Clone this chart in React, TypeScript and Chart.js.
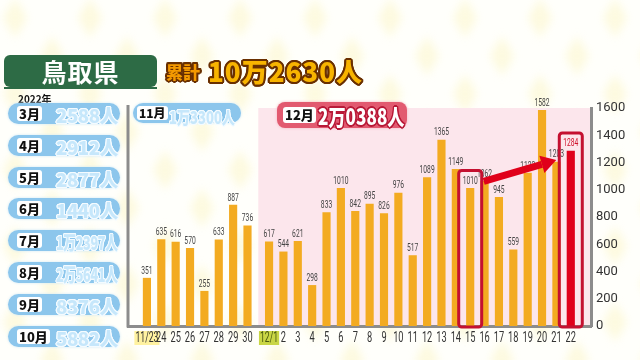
import React, { useEffect, useRef } from 'react';
import { Chart, registerables } from 'chart.js';

Chart.register(...registerables);

// ---------- data ----------
const dateLabels = ['11/23', '24', '25', '26', '27', '28', '29', '30', '12/1', '2', '3', '4', '5', '6', '7', '8', '9', '10', '11', '12', '13', '14', '15', '16', '17', '18', '19', '20', '21', '22'];
const dailyCases = [351, 635, 616, 570, 255, 633, 887, 736, 617, 544, 621, 298, 833, 1010, 842, 895, 826, 976, 517, 1089, 1365, 1149, 1010, 1062, 945, 559, 1122, 1582, 1203, 1284];
const yTickValues = [0, 200, 400, 600, 800, 1000, 1200, 1400, 1600];
const decStartIndex = 8;
const compareFrom = '15';
const compareTo = '22';

const monthNames = ['3月', '4月', '5月', '6月', '7月', '8月', '9月', '10月'];
const monthTotals = ['2588人', '2912人', '2877人', '1440人', '1万2397人', '2万5641人', '8376人', '5882人'];
const novName = '11月';
const novTotal = '1万3300人';
const decName = '12月';
const decTotal = '2万0388人';
const prefecture = '鳥取県';
const cumulativeLabel = '累計';
const cumulativeTotal = '10万2630人';
const yearLabel = '2022年';

// ---------- helpers ----------
const xPos = (i: number) => (i < decStartIndex ? i : i + 0.5);
const SANS = 'Roboto, "Noto Sans", sans-serif';
const JP = '"Noto Sans CJK JP", "Noto Sans", sans-serif';
const fromIdx = dateLabels.lastIndexOf(compareFrom);
const toIdx = dateLabels.lastIndexOf(compareTo);

const estW = (s: string, fs: number) =>
  [...s].reduce((w, c) => w + (/[0-9]/.test(c) ? 0.58 : 1.0) * fs, 0);

const outlineShadow = (r: number, color: string) => {
  const parts: string[] = [];
  for (let a = 0; a < 16; a++) {
    const t = (a / 16) * Math.PI * 2;
    parts.push(`${(Math.cos(t) * r).toFixed(2)}px ${(Math.sin(t) * r).toFixed(2)}px 0 ${color}`);
  }
  return parts.join(', ');
};

function FitText({ text, fs, width, style }: { text: string; fs: number; width: number; style?: any }) {
  const k = Math.min(1, width / estW(text, fs));
  return (
    <span
      style={{
        display: 'inline-block',
        whiteSpace: 'nowrap',
        fontSize: fs,
        lineHeight: 1,
        transform: `scaleX(${k})`,
        transformOrigin: 'left center',
        ...style,
      }}
    >
      {text}
    </span>
  );
}

const squeezeText = (ctx: any, text: string, x: number, y: number, sx: number) => {
  ctx.save();
  ctx.translate(x, y);
  ctx.scale(sx, 1);
  ctx.fillText(text, 0, 0);
  ctx.restore();
};

const decorPlugin = {
  id: 'decor',
  beforeDraw(chart: any) {
    const { ctx, width, height, chartArea } = chart;
    const x = chart.scales.x;
    ctx.save();
    ctx.fillStyle = '#fffffb';
    ctx.fillRect(0, 0, width, height);
    ctx.filter = 'blur(4px)';
    ctx.fillStyle = 'rgba(250,245,190,0.45)';
    for (let row = 0; row < 11; row++) {
      const cy = row * 38 + 18;
      const off = row % 2 ? 37 : 0;
      for (let cx = 15 + off - 75; cx < width + 40; cx += 75) {
        ctx.beginPath();
        ctx.moveTo(cx, cy - 20);
        ctx.lineTo(cx + 12, cy);
        ctx.lineTo(cx, cy + 20);
        ctx.lineTo(cx - 12, cy);
        ctx.closePath();
        ctx.fill();
      }
    }
    ctx.filter = 'none';
    const px = x.getPixelForValue((xPos(decStartIndex - 1) + xPos(decStartIndex)) / 2);
    ctx.fillStyle = '#fce6ec';
    ctx.fillRect(px, chartArea.top, chartArea.right - px, chartArea.bottom - chartArea.top);
    ctx.restore();
  },
  afterDatasetsDraw(chart: any) {
    const { ctx, chartArea } = chart;
    const meta = chart.getDatasetMeta(0);
    ctx.save();
    // value labels
    ctx.font = `10.5px ${SANS}`;
    ctx.textAlign = 'center';
    ctx.textBaseline = 'bottom';
    meta.data.forEach((bar: any, i: number) => {
      ctx.fillStyle = i === toIdx ? '#d0102a' : '#444';
      squeezeText(ctx, String(dailyCases[i]), bar.x, bar.y - 2, 0.64);
    });
    // highlight boxes
    const boxes = [fromIdx, toIdx].map((idx) => {
      const bar = meta.data[idx];
      return { x0: bar.x - 11.5, x1: bar.x + 11.5, y0: bar.y - 18, y1: chartArea.bottom + 1 };
    });
    ctx.strokeStyle = '#c41030';
    ctx.lineWidth = 3;
    boxes.forEach((b) => {
      ctx.beginPath();
      if (ctx.roundRect) ctx.roundRect(b.x0, b.y0, b.x1 - b.x0, b.y1 - b.y0, 3);
      else ctx.rect(b.x0, b.y0, b.x1 - b.x0, b.y1 - b.y0);
      ctx.stroke();
    });
    // arrow
    const x0 = boxes[0].x1 + 2, y0 = boxes[0].y0 + 11;
    const x1 = boxes[1].x0 - 3, y1 = boxes[1].y0 + 27;
    const ang = Math.atan2(y1 - y0, x1 - x0);
    const headLen = 15, headW = 9;
    const bx = x1 - headLen * Math.cos(ang), by = y1 - headLen * Math.sin(ang);
    ctx.strokeStyle = '#e0001a';
    ctx.fillStyle = '#e0001a';
    ctx.lineWidth = 7;
    ctx.beginPath();
    ctx.moveTo(x0, y0);
    ctx.lineTo(bx, by);
    ctx.stroke();
    ctx.beginPath();
    ctx.moveTo(x1, y1);
    ctx.lineTo(bx + headW * Math.sin(ang), by - headW * Math.cos(ang));
    ctx.lineTo(bx - headW * Math.sin(ang), by + headW * Math.cos(ang));
    ctx.closePath();
    ctx.fill();
    ctx.restore();
  },
  afterDraw(chart: any) {
    const { ctx, chartArea } = chart;
    const x = chart.scales.x;
    ctx.save();
    // left frame line
    ctx.strokeStyle = '#8c8c8c';
    ctx.lineWidth = 3;
    ctx.beginPath();
    ctx.moveTo(chartArea.left, chartArea.top - 3);
    ctx.lineTo(chartArea.left, chartArea.bottom + 1.5);
    ctx.stroke();
    // x tick labels (condensed)
    ctx.font = `14px ${SANS}`;
    ctx.textAlign = 'center';
    ctx.textBaseline = 'middle';
    const ly = chartArea.bottom + 12;
    dateLabels.forEach((lab, i) => {
      const px = x.getPixelForValue(xPos(i));
      const sx = lab.includes('/') ? 0.62 : 0.66;
      const w = ctx.measureText(lab).width * sx;
      if (i === 0 || i === decStartIndex) {
        ctx.fillStyle = i === 0 ? '#fff2a0' : '#c9d646';
        ctx.fillRect(px - w / 2 - 1, ly - 7, w + 2, 14);
      }
      ctx.fillStyle = i === decStartIndex ? '#4a5a10' : '#333';
      squeezeText(ctx, lab, px, ly, sx);
    });
    ctx.restore();
  },
};

export default function App() {
  const ref = useRef<HTMLCanvasElement>(null);

  useEffect(() => {
    document.body.style.margin = '0';
    const chart = new Chart(ref.current as HTMLCanvasElement, {
      type: 'bar',
      data: {
        labels: dateLabels,
        datasets: [
          {
            data: dailyCases.map((v, i) => ({ x: xPos(i), y: v })),
            backgroundColor: (c: any) => (c.dataIndex === toIdx ? '#e0001b' : '#f3ab21'),
            barThickness: 7.5,
            borderWidth: 0,
          },
        ],
      },
      options: {
        animation: false,
        responsive: false,
        devicePixelRatio: 1,
        layout: { padding: { left: 128, top: 108, right: 0, bottom: 0 } },
        plugins: { legend: { display: false }, tooltip: { enabled: false } },
        scales: {
          x: {
            type: 'linear',
            min: -0.78,
            max: 30.37,
            bounds: 'data',
            afterBuildTicks: (s: any) => {
              s.ticks = dateLabels.map((_, i) => ({ value: xPos(i) }));
            },
            afterFit: (s: any) => {
              s.height = 34;
            },
            grid: { display: false, drawTicks: false },
            border: { display: true, color: '#8c8c8c', width: 3 },
            ticks: { display: false },
          },
          y: {
            position: 'right',
            min: 0,
            max: 1600,
            afterBuildTicks: (s: any) => {
              s.ticks = yTickValues.map((v) => ({ value: v }));
            },
            afterFit: (s: any) => {
              s.width = 49;
            },
            grid: { display: false, drawTicks: false },
            border: { display: true, color: '#8c8c8c', width: 3 },
            ticks: {
              padding: 5,
              color: '#333',
              font: { size: 13, family: SANS },
              callback: (v: any) => String(v),
            },
          },
        },
      } as any,
      plugins: [decorPlugin],
    });
    return () => chart.destroy();
  }, []);

  const brown = outlineShadow(2, '#6a3000');
  const whiteLine = outlineShadow(1.2, '#f4fbff');
  const redLine = outlineShadow(1.6, '#b81a38');

  return (
    <div style={{ position: 'relative', width: 640, height: 360, overflow: 'hidden', fontFamily: JP }}>
      <canvas ref={ref} width={640} height={360} style={{ position: 'absolute', left: 0, top: 0 }} />

      {/* prefecture title */}
      <div
        style={{
          position: 'absolute', left: 4, top: 55, width: 153, height: 32, background: '#2d6b45',
          borderRadius: 6, color: '#fff', fontWeight: 700, fontSize: 25, lineHeight: '32px',
          textAlign: 'center', letterSpacing: 1,
        }}
      >
        {prefecture}
      </div>
      <div style={{ position: 'absolute', left: 4, top: 87, width: 153, height: 2, background: '#2d6b45' }} />

      {/* cumulative */}
      <div style={{ position: 'absolute', left: 166, top: 58, whiteSpace: 'nowrap', fontWeight: 900, lineHeight: 1 }}>
        <span style={{ fontSize: 17, color: '#f59a00', textShadow: brown, verticalAlign: 'middle' }}>{cumulativeLabel}</span>
        <span style={{ display: 'inline-block', width: 8 }} />
        <FitText text={cumulativeTotal} fs={26} width={160} style={{ color: '#f8b400', textShadow: brown, verticalAlign: 'middle', letterSpacing: 1 }} />
      </div>

      {/* year */}
      <div style={{ position: 'absolute', left: 18, top: 94, fontSize: 10, fontWeight: 700, color: '#111', lineHeight: 1 }}>{yearLabel}</div>

      {/* monthly pills */}
      {monthNames.map((m, i) => (
        <div
          key={m}
          style={{
            position: 'absolute', left: 8, top: 103 + i * 31.8, width: 112, height: 21, borderRadius: 11,
            background: '#8cc6ec', boxShadow: '0 0 3px #cfe8f7',
          }}
        >
          <div
            style={{
              position: 'absolute', left: 9, top: 3, height: 15, padding: '0 2px', background: '#fff', borderRadius: 3,
              fontSize: 13, fontWeight: 800, lineHeight: '15px', color: '#111',
            }}
          >
            {m}
          </div>
          <div style={{ position: 'absolute', left: 48, top: 1, fontWeight: 800 }}>
            <FitText text={monthTotals[i]} fs={19} width={62} style={{ color: '#c6e7fb', textShadow: whiteLine, letterSpacing: -0.5 }} />
          </div>
        </div>
      ))}

      {/* November pill */}
      <div
        style={{
          position: 'absolute', left: 133, top: 103, width: 108, height: 20, borderRadius: 10,
          background: '#8cc6ec', boxShadow: '0 0 3px #cfe8f7',
        }}
      >
        <div
          style={{
            position: 'absolute', left: 4, top: 3, height: 14, padding: '0 2px', background: '#fff', borderRadius: 3,
            fontSize: 12, fontWeight: 800, lineHeight: '14px', color: '#111',
          }}
        >
          {novName}
        </div>
        <div style={{ position: 'absolute', left: 36, top: 1.5, fontWeight: 800 }}>
          <FitText text={novTotal} fs={17} width={64} style={{ color: '#c6e7fb', textShadow: whiteLine }} />
        </div>
      </div>

      {/* December pill */}
      <div
        style={{
          position: 'absolute', left: 277, top: 102, width: 130, height: 26, borderRadius: 8,
          background: '#e25a70', boxShadow: '0 0 3px #f3b3c0',
        }}
      >
        <div
          style={{
            position: 'absolute', left: 6, top: 5, height: 16, padding: '0 2px', background: '#fff', borderRadius: 3,
            fontSize: 13, fontWeight: 800, lineHeight: '16px', color: '#111',
          }}
        >
          {decName}
        </div>
        <div style={{ position: 'absolute', left: 41, top: 2, fontWeight: 800 }}>
          <FitText text={decTotal} fs={22} width={84} style={{ color: '#fff', textShadow: redLine }} />
        </div>
      </div>
    </div>
  );
}
